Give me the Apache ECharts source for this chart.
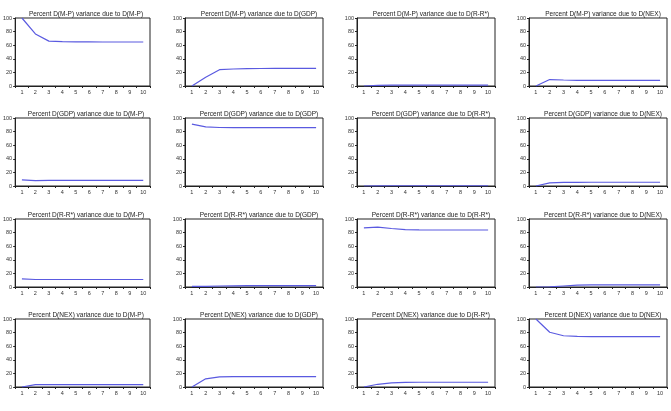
<!DOCTYPE html>
<html><head><meta charset="utf-8">
<script src="https://cdn.jsdelivr.net/npm/echarts@6/dist/echarts.min.js"></script>
<style>html,body{margin:0;padding:0;background:#fff}#c{width:671px;height:411px}</style>
</head><body><div id="c"></div>
<script>
var periods = ['1','2','3','4','5','6','7','8','9','10'];
var variables = ['M-P','GDP','R-R*','NEX'];
var yTicks = [0,20,40,60,80,100];

// Row 1: variance of D(M-P)
var mp_mp   = [100, 76.5, 66, 65.4, 65, 64.8, 64.7, 64.7, 64.7, 64.7];
var mp_gdp  = [0, 13, 24, 25, 25.5, 25.7, 25.8, 25.8, 25.8, 25.8];
var mp_rr   = [0, 1, 1.2, 1.3, 1.3, 1.3, 1.3, 1.3, 1.3, 1.3];
var mp_nex  = [0, 9.5, 8.8, 8.4, 8.3, 8.2, 8.2, 8.2, 8.2, 8.2];
// Row 2: variance of D(GDP)
var gdp_mp  = [9, 8, 8.3, 8.3, 8.3, 8.3, 8.3, 8.3, 8.3, 8.3];
var gdp_gdp = [91, 87, 86, 85.9, 85.8, 85.8, 85.8, 85.8, 85.8, 85.8];
var gdp_rr  = [0, 0.3, 0.4, 0.4, 0.4, 0.4, 0.4, 0.4, 0.4, 0.4];
var gdp_nex = [0, 4.7, 5.3, 5.4, 5.5, 5.5, 5.5, 5.5, 5.5, 5.5];
// Row 3: variance of D(R-R*)
var rr_mp   = [12, 11, 11, 11, 11, 11, 11, 11, 11, 11];
var rr_gdp  = [1, 0.8, 1.5, 1.8, 2, 2, 2, 2, 2, 2];
var rr_rr   = [87, 88, 86, 84.5, 84, 83.8, 83.8, 83.8, 83.8, 83.8];
var rr_nex  = [0, 0.2, 1.5, 2.7, 3, 3.2, 3.2, 3.2, 3.2, 3.2];
// Row 4: variance of D(NEX)
var nex_mp  = [0, 3.5, 3.6, 3.6, 3.6, 3.6, 3.6, 3.6, 3.6, 3.6];
var nex_gdp = [0, 12, 15, 15.2, 15.2, 15.2, 15.2, 15.2, 15.2, 15.2];
var nex_rr  = [0, 4, 6, 6.8, 7, 7, 7, 7, 7, 7];
var nex_nex = [100, 80.5, 75.4, 74.4, 74.2, 74.2, 74.2, 74.2, 74.2, 74.2];

var rows = [
  [mp_mp, mp_gdp, mp_rr, mp_nex],
  [gdp_mp, gdp_gdp, gdp_rr, gdp_nex],
  [rr_mp, rr_gdp, rr_rr, rr_nex],
  [nex_mp, nex_gdp, nex_rr, nex_nex]
];

var colLeft = [12, 185, 357, 529];
var rowTop = [18, 118, 219, 319];
var plotW = 138, plotH = 68;

var grids = [], xAxes = [], yAxes = [], series = [], titles = [];
var k = 0;
for (var r = 0; r < 4; r++) {
  for (var c = 0; c < 4; c++) {
    grids.push({left: colLeft[c], top: rowTop[r], width: plotW, height: plotH,
      show: true, borderColor: '#222', borderWidth: 1, backgroundColor: '#fff'});
    xAxes.push({type: 'category', gridIndex: k, data: periods, boundaryGap: true,
      axisLine: {lineStyle: {color: '#222', width: 1}},
      axisTick: {show: true, length: 2, lineStyle: {color: '#222'}},
      axisLabel: {fontSize: 5.5, color: '#333', margin: 3, fontFamily: 'Liberation Sans'},
      splitLine: {show: false}});
    yAxes.push({type: 'value', gridIndex: k, min: yTicks[0], max: yTicks[yTicks.length-1], interval: 20,
      axisLine: {show: true, lineStyle: {color: '#222', width: 1}},
      axisTick: {show: true, length: 2, lineStyle: {color: '#222'}},
      axisLabel: {fontSize: 5.5, color: '#333', margin: 3, fontFamily: 'Liberation Sans'},
      splitLine: {show: false}});
    series.push({type: 'line', xAxisIndex: k, yAxisIndex: k, data: rows[r][c],
      symbol: 'none', silent: true, animation: false,
      lineStyle: {color: '#5a5ae0', width: 1.2}});
    titles.push({text: 'Percent D(' + variables[r] + ') variance due to D(' + variables[c] + ')',
      left: colLeft[c] + plotW / 2, top: rowTop[r] - 12, textAlign: 'center',
      textStyle: {fontSize: 6.5, fontWeight: 'normal', color: '#222', fontFamily: 'Liberation Sans'}});
    k++;
  }
}

var chart = echarts.init(document.getElementById('c'), null, {renderer: 'canvas'});
chart.setOption({
  animation: false,
  backgroundColor: '#fff',
  title: titles,
  grid: grids,
  xAxis: xAxes,
  yAxis: yAxes,
  series: series
});
</script></body></html>
